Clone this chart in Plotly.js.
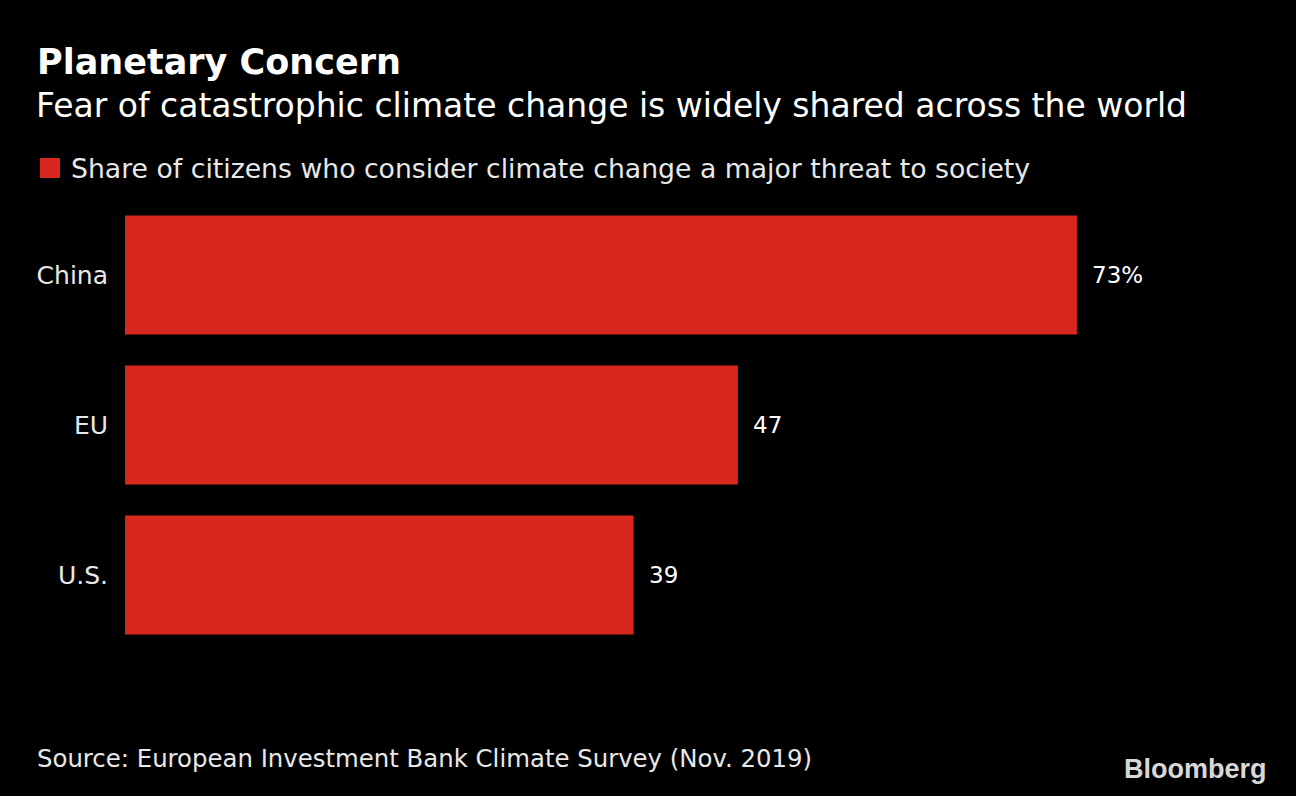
<!DOCTYPE html>
<html>
<head>
<meta charset="utf-8">
<script src="https://cdn.plot.ly/plotly-3.0.1.min.js"></script>
<style>
html,body{margin:0;padding:0;background:#000;}
#chart{width:1296px;height:796px;}
</style>
</head>
<body>
<div id="chart"></div>
<script>
const categories = ["China", "EU", "U.S."];
const shareValues = [73, 47, 39];
const valueLabels = ["73%", "47", "39"];
const seriesName = "Share of citizens who consider climate change a major threat to society";
const titleText = "Planetary Concern";
const subtitleText = "Fear of catastrophic climate change is widely shared across the world";
const sourceText = "Source: European Investment Bank Climate Survey (Nov. 2019)";

const W = 1296, H = 796;
const L = 125, R = 128, T = 200, B = 146;
const pw = W - L - R, ph = H - T - B;
const px = x => (x - L) / pw;
const py = y => (H - B - y) / ph;

const FONT = "DejaVu Sans, Noto Sans, sans-serif";
const RED = "#d9261f";
const TXT = "#e8e8e8";

const trace = {
  type: "bar",
  orientation: "h",
  y: categories,
  x: shareValues,
  name: seriesName,
  marker: {color: RED},
  hoverinfo: "x+y",
  showlegend: false
};

const annotations = [
  {text: "<b>" + titleText + "</b>", x: px(35), y: py(62), xref: "paper", yref: "paper",
   xanchor: "left", yanchor: "middle", showarrow: false,
   font: {family: FONT, size: 35, color: "#ffffff"}},
  {text: subtitleText, x: px(34), y: py(105), xref: "paper", yref: "paper",
   xanchor: "left", yanchor: "middle", showarrow: false,
   font: {family: FONT, size: 33, color: "#ffffff"}},
  {text: seriesName, x: px(69), y: py(168), xref: "paper", yref: "paper",
   xanchor: "left", yanchor: "middle", showarrow: false,
   font: {family: FONT, size: 26.7, color: TXT}},
  {text: sourceText, x: px(35), y: py(758), xref: "paper", yref: "paper",
   xanchor: "left", yanchor: "middle", showarrow: false,
   font: {family: FONT, size: 24.4, color: TXT}},
  {text: "<b>Bloomberg</b>", x: px(1269), y: py(769), xref: "paper", yref: "paper",
   xanchor: "right", yanchor: "middle", showarrow: false,
   font: {family: "Liberation Sans, Arial, sans-serif", size: 27, color: "#d8d8d8"}}
];
categories.forEach((c, i) => {
  annotations.push({
    text: valueLabels[i], x: shareValues[i], y: c, xref: "x", yref: "y",
    xanchor: "left", yanchor: "middle", xshift: 13, showarrow: false,
    font: {family: FONT, size: 23, color: "#ffffff"}
  });
});

const layout = {
  width: W, height: H,
  paper_bgcolor: "#000", plot_bgcolor: "#000",
  margin: {l: L, r: R, t: T, b: B, pad: 0},
  bargap: 0.207,
  showlegend: false,
  xaxis: {range: [0, pw / 13.04], visible: false, fixedrange: true},
  yaxis: {type: "category", categoryorder: "array", categoryarray: categories,
          range: [2.5, -0.5], showgrid: false, zeroline: false, showline: false,
          ticks: "", ticklabelstandoff: 16,
          tickfont: {family: FONT, size: 25, color: TXT}, fixedrange: true},
  shapes: [
    {type: "rect", xref: "paper", yref: "paper",
     x0: px(40), x1: px(60), y0: py(178), y1: py(158),
     fillcolor: RED, line: {width: 0}}
  ],
  annotations: annotations
};

Plotly.newPlot("chart", [trace], layout, {displayModeBar: false, staticPlot: true});
</script>
</body>
</html>
